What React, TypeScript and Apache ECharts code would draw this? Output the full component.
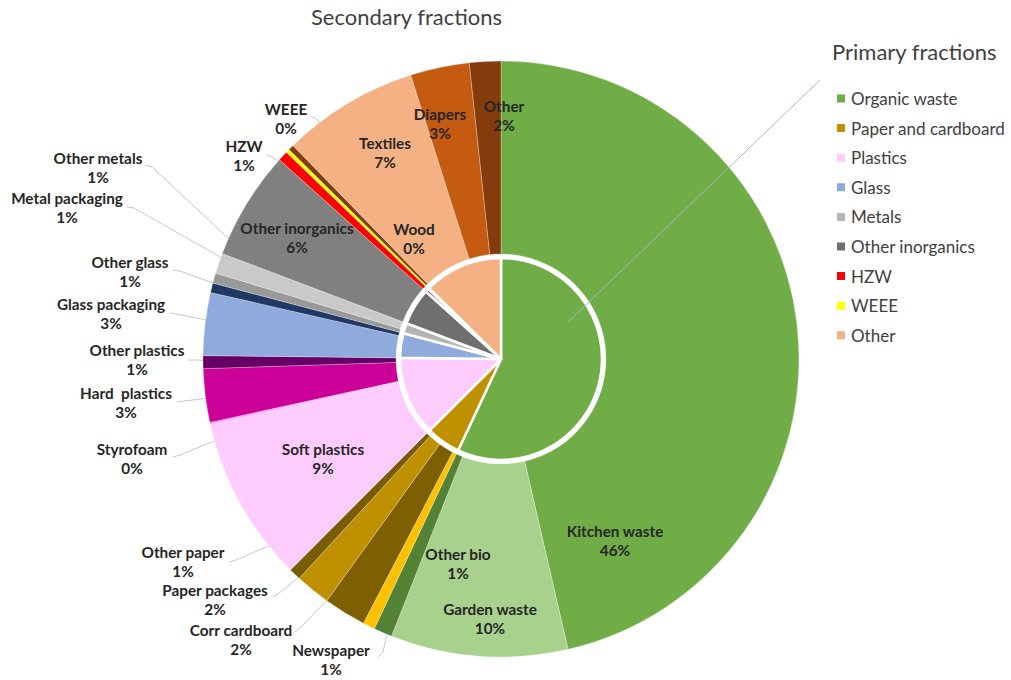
import React, { useEffect, useRef } from "react";
import * as echarts from "echarts";

const primaryNames = ["Organic waste", "Paper and cardboard", "Plastics", "Glass", "Metals", "Other inorganics", "HZW", "WEEE", "Other"];
const primaryValues = [57.0, 5.5, 12.7, 3.92, 1.65, 5.9, 0.55, 0.2, 12.6];
const primaryColors = ["#70ad47", "#bf9000", "#ffccff", "#8faadc", "#b4b4b4", "#6f6f6f", "#ff0000", "#ffff00", "#f4b183"];

const secondaryNames = ["Kitchen waste", "Garden waste", "Other bio", "Newspaper", "Corr cardboard", "Paper packages", "Other paper", "Soft plastics", "Styrofoam", "Hard  plastics", "Other plastics", "Glass packaging", "Other glass", "Metal packaging", "Other metals", "Other inorganics", "HZW", "WEEE", "Wood", "Textiles", "Diapers", "Other"];
const secondaryValues = [46.4, 9.6, 1.0, 0.65, 2.3, 1.9, 0.65, 9.0, 0.1, 2.9, 0.7, 3.4, 0.52, 0.55, 1.1, 5.9, 0.55, 0.2, 0.3, 7.4, 3.2, 1.7];
const secondaryColors = ["#70ad47", "#a9d18e", "#548235", "#ffc000", "#7f6000", "#bf9000", "#7a5c00", "#ffccff", "#ff99ff", "#cc0099", "#660066", "#8faadc", "#203864", "#999999", "#c9c9c9", "#808080", "#ff0000", "#ffff00", "#843c0c", "#f4b183", "#c55a11", "#843c0c"];

// label placement (style only): centre of label text, optional leader line points
type LL = { x: number; y: number; line?: number[][] };
const labelPlacement: LL[] = [
  { x: 615, y: 540 },
  { x: 490, y: 618 },
  { x: 458, y: 563 },
  { x: 331, y: 659, line: [[378, 657], [383, 652], [408, 535]] },
  { x: 241, y: 639, line: [[295, 632], [300, 628], [393, 532]] },
  { x: 215, y: 599, line: [[273, 597], [278, 594], [373, 517]] },
  { x: 183, y: 561, line: [[230, 562], [236, 560], [360, 507]] },
  { x: 323, y: 458 },
  { x: 132, y: 458, line: [[173, 457], [180, 455], [290, 410]] },
  { x: 126, y: 402, line: [[177, 402], [184, 401], [302, 387]] },
  { x: 137, y: 359, line: [[188, 360], [195, 360], [300, 365]] },
  { x: 111, y: 313, line: [[170, 313], [176, 314], [207, 320]] },
  { x: 130, y: 271, line: [[173, 270], [180, 271], [213, 283]] },
  { x: 67, y: 207, line: [[127, 207], [134, 208], [222, 258]] },
  { x: 98, y: 167, line: [[145, 165], [152, 167], [305, 310]] },
  { x: 297, y: 237 },
  { x: 244, y: 155, line: [[267, 155], [272, 157], [280, 162]] },
  { x: 286, y: 118, line: [[311, 116], [318, 120], [350, 213]] },
  { x: 414, y: 238 },
  { x: 385, y: 152 },
  { x: 440, y: 123 },
  { x: 504, y: 115 },
];

const FONT = "Lato";

export default function App() {
  const ref = useRef<HTMLDivElement>(null);
  useEffect(() => {
    if (!ref.current) return;
    const chart = echarts.init(ref.current, undefined, { renderer: "svg" });
    const center = [501, 359];
    chart.setOption({
      animation: false,
      backgroundColor: "#ffffff",
      title: [
        {
          text: "Secondary fractions",
          left: 311,
          top: 5,
          padding: 0,
          textStyle: { fontFamily: FONT, fontSize: 22, fontWeight: "normal", color: "#404040" },
        },
        {
          text: "Primary fractions",
          left: 832,
          top: 40,
          padding: 0,
          textStyle: { fontFamily: FONT, fontSize: 22, fontWeight: "normal", color: "#404040" },
        },
      ],
      legend: {
        orient: "vertical",
        left: 835,
        top: 90,
        padding: 0,
        icon: "rect",
        itemWidth: 10,
        itemHeight: 10,
        itemGap: 12.6,
        selectedMode: false,
        textStyle: { fontFamily: FONT, fontSize: 17, color: "#404040", lineHeight: 17 },
        data: primaryNames,
      },
      graphic: [
        {
          type: "line",
          z: 100,
          shape: { x1: 820, y1: 80, x2: 568, y2: 322 },
          style: { stroke: "#a7b3cf", lineWidth: 1 },
        },
      ],
      series: [
        {
          type: "pie",
          name: "Primary",
          center,
          radius: [0, 101],
          startAngle: 90,
          silent: true,
          label: { show: false },
          labelLine: { show: false },
          itemStyle: { borderColor: "#ffffff", borderWidth: 2.5 },
          data: primaryNames.map((n, i) => ({ name: n, value: primaryValues[i], itemStyle: { color: primaryColors[i] } })),
        },
        {
          type: "pie",
          name: "Secondary",
          center,
          radius: [105, 298],
          startAngle: 90,
          silent: true,
          avoidLabelOverlap: false,
          itemStyle: { borderColor: "rgba(255,255,255,0.35)", borderWidth: 0.8 },
          label: {
            show: true,
            position: "outside",
            fontFamily: FONT,
            fontWeight: "bold",
            fontSize: 15.3,
            lineHeight: 19,
            color: "#262626",
            align: "center",
            formatter: (p: any) => `${p.name}\n${Math.round(p.percent)}%`,
          },
          labelLine: { show: true, lineStyle: { color: "#c8c8c8", width: 1 } },
          labelLayout: (params: any) => {
            const L = labelPlacement[params.dataIndex];
            const out: any = { x: L.x, y: L.y, align: "center", verticalAlign: "middle" };
            if (L.line) out.labelLinePoints = L.line;
            return out;
          },
          data: secondaryNames.map((n, i) => ({
            name: n,
            value: secondaryValues[i],
            itemStyle: { color: secondaryColors[i] },
            labelLine: { show: !!labelPlacement[i].line },
          })),
        },
      ],
    });
    return () => chart.dispose();
  }, []);
  return <div ref={ref} style={{ position: "fixed", left: 0, top: 0, width: 1011, height: 680 }} />;
}
